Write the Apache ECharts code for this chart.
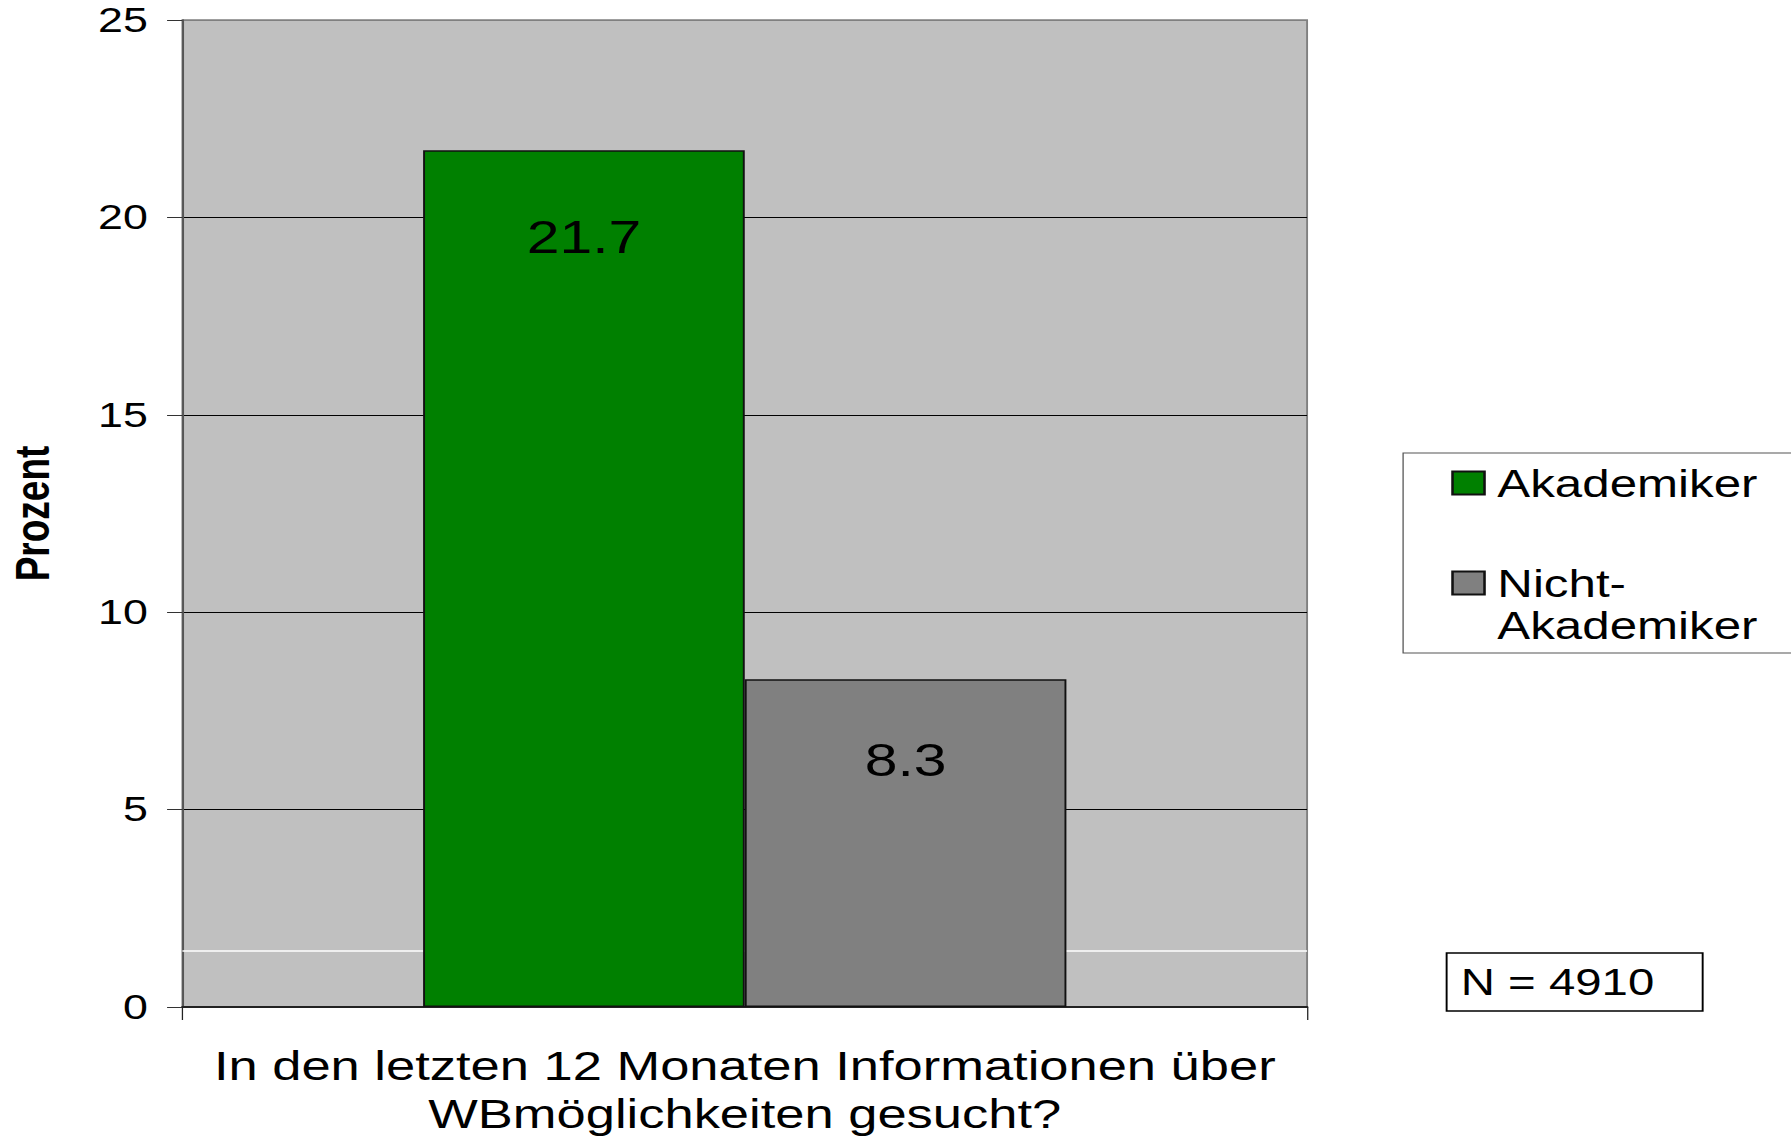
<!DOCTYPE html>
<html>
<head>
<meta charset="utf-8">
<script src="https://cdn.jsdelivr.net/npm/echarts@6/dist/echarts.min.js"></script>
<style>
html, body { margin: 0; padding: 0; background: #fff; overflow: hidden; }
/* the source picture is stretched sideways, so the chart is drawn narrower and widened */
#main { width: 1399px; height: 1136px; transform: scaleX(1.2802); transform-origin: 0 0; }
</style>
</head>
<body>
<div id="main"></div>
<script>
var categories = ['In den letzten 12 Monaten Informationen über\nWBmöglichkeiten gesucht?'];
var seriesNames = ['Akademiker', 'Nicht-Akademiker'];
var akademiker = [21.7];
var nichtAkademiker = [8.3];
var yMin = 0, yMax = 25, yStep = 5;
var sampleSize = 4910;
var faintLine = 1.42;

var font = 'Liberation Sans, Arial, sans-serif';
var myChart = echarts.init(document.getElementById('main'), null, {renderer: 'svg'});

var option = {
    backgroundColor: '#fff',
    animation: false,
    textStyle: { fontFamily: font, color: '#000' },
    title: {
        text: 'N = ' + sampleSize,
        left: 1130,
        top: 953,
        padding: [7, 38, 7, 11],
        borderColor: '#000',
        borderWidth: 1.5,
        backgroundColor: '#fff',
        textStyle: { fontFamily: font, fontSize: 37, fontWeight: 'normal', color: '#000', lineHeight: 44 }
    },
    legend: {
        orient: 'vertical',
        left: 1096,
        top: 453,
        padding: [8.5, 60, 5.5, 37.6],
        itemGap: 14,
        itemWidth: 25,
        itemHeight: 23,
        borderColor: '#555',
        borderWidth: 1,
        backgroundColor: '#fff',
        icon: 'rect',
        data: seriesNames,
        formatter: function (name) {
            var i = name.indexOf('-');
            return i < 0 ? name : '\n' + name.slice(0, i + 1) + '\n' + name.slice(i + 1);
        },
        textStyle: { fontFamily: font, fontSize: 38.5, color: '#000', lineHeight: 43, padding: [0, 0, 0, 5] }
    },
    grid: {
        left: 142.5,
        right: 378,
        top: 20,
        bottom: 129,
        outerBoundsMode: 'none',
        show: true,
        backgroundColor: '#c0c0c0',
        borderColor: '#808080',
        borderWidth: 1.5
    },
    xAxis: {
        type: 'category',
        data: categories,
        axisLine: { lineStyle: { color: '#222', width: 2 } },
        axisTick: { show: true, length: 13, lineStyle: { color: '#222', width: 1 } },
        axisLabel: { interval: 0, margin: 35, fontFamily: font, fontSize: 41, lineHeight: 48, color: '#000' }
    },
    yAxis: {
        type: 'value',
        min: yMin,
        max: yMax,
        interval: yStep,
        name: 'Prozent',
        nameLocation: 'middle',
        nameRotate: 90,
        nameGap: 98,
        nameTextStyle: { fontFamily: font, fontSize: 37, fontWeight: 'bold', color: '#000' },
        axisLine: { show: true, lineStyle: { color: '#555', width: 1.5 } },
        axisTick: { show: true, length: 12, lineStyle: { color: '#333' } },
        axisLabel: { margin: 27, fontFamily: font, fontSize: 35, color: '#000' },
        splitLine: { show: true, lineStyle: { color: ['#000', '#000', '#000', '#000', '#000', '#808080'], width: 1 } }
    },
    series: [{
        name: seriesNames[0],
        type: 'bar',
        barGap: '0%',
        barCategoryGap: '42.8%',
        data: akademiker,
        itemStyle: { color: '#008000', borderColor: '#111', borderWidth: 1.5 },
        label: { show: true, position: 'insideTop', distance: 64, fontFamily: font, fontSize: 46, color: '#000' },
        markLine: {
            silent: true,
            z: 1,
            symbol: 'none',
            label: { show: false },
            lineStyle: { color: '#fff', type: 'solid', width: 1.5 },
            data: [{ yAxis: faintLine }]
        }
    }, {
        name: seriesNames[1],
        type: 'bar',
        barGap: '0%',
        barCategoryGap: '42.8%',
        data: nichtAkademiker,
        itemStyle: { color: '#808080', borderColor: '#111', borderWidth: 1.5 },
        label: { show: true, position: 'insideTop', distance: 58, fontFamily: font, fontSize: 46, color: '#000' }
    }]
};
myChart.setOption(option);
</script>
</body>
</html>
